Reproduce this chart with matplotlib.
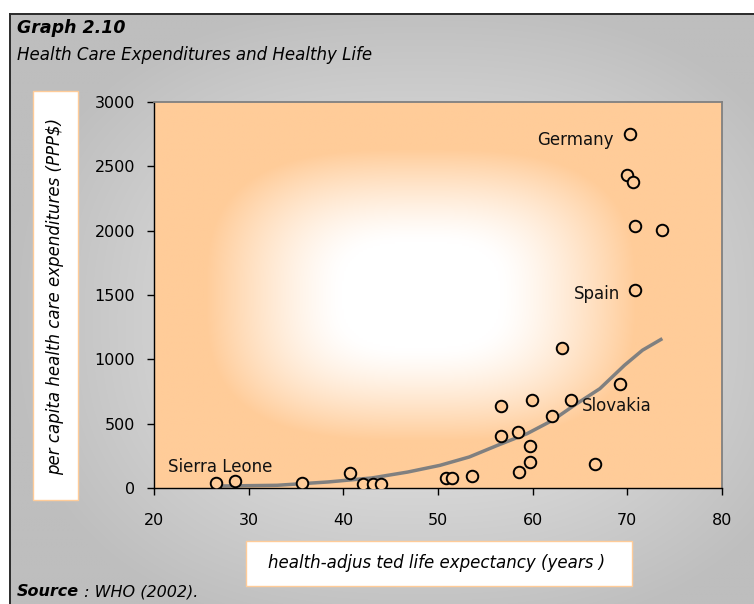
import numpy as np
import matplotlib.pyplot as plt
from matplotlib.patches import Rectangle

# ---------- Data ----------
life_exp = [26.5, 28.6, 35.6, 40.7, 42.1, 43.1, 44.0, 50.8, 51.5, 53.6,
            56.7, 56.7, 58.4, 59.9, 59.7, 59.7, 58.6, 62.0, 63.1, 64.1,
            66.6, 69.2, 70.85, 70.8, 73.65, 69.95, 70.65, 70.25]
health_exp = [35, 52, 38, 115, 30, 30, 30, 78, 78, 93,
              638, 407, 435, 687, 329, 200, 124, 562, 1091, 687,
              187, 809, 1542, 2037, 2006, 2431, 2379, 2750]

# trend line as drawn in the chart
trend_x = [26.5, 33.0, 38.4, 43.0, 46.8, 50.2, 53.3, 56.3, 59.4, 62.1,
           64.4, 67.1, 69.7, 71.6, 73.7]
trend_y = [15, 21, 47, 78, 124, 176, 241, 332, 422, 526,
           643, 772, 954, 1071, 1161]

# labelled countries -> index in the arrays above
countries = ['Germany', 'Spain', 'Slovakia', 'Sierra Leone']
country_idx = [27, 22, 19, 0]

x_ticks = [20, 30, 40, 50, 60, 70, 80]
y_ticks = [0, 500, 1000, 1500, 2000, 2500, 3000]

title = 'Graph 2.10'
subtitle = 'Health Care Expenditures and Healthy Life'
x_label = 'health-adjus ted life expectancy (years )'
y_label = 'per capita health care expenditures (PPP$)'

PEACH = '#FFCC99'
W, H = 754, 604

plt.rcParams['font.family'] = ['DejaVu Sans']

fig = plt.figure(figsize=(W / 100, H / 100), dpi=100)
fig.patch.set_facecolor('white')

# ---------- Grey frame with radial shading (pixel coordinates) ----------
bg = fig.add_axes([0, 0, 1, 1], zorder=-5)
bx, by = np.meshgrid(np.linspace(10, 760, 300), np.linspace(14, 610, 240))
rb = (np.abs((bx - 420) / 410) ** 2.5 + np.abs((by - 320) / 320) ** 2.5) ** 0.4
tb = np.clip((rb - 0.5) / 0.5, 0, 1)
grey = (215 - 25 * tb) / 255
bg.imshow(np.dstack([grey, grey, grey]), extent=(10, 760, 610, 14),
          aspect='auto', interpolation='bilinear')
bg.plot([10, 760], [14, 14], color='#2a2a2a', lw=1.4)
bg.plot([10, 10], [14, 610], color='#2a2a2a', lw=1.4)
bg.add_patch(Rectangle((33, 91), 45, 409, fc='white', ec=PEACH, lw=1))
bg.add_patch(Rectangle((246, 541), 386, 45, fc='white', ec=PEACH, lw=1))
bg.set_xlim(0, W)
bg.set_ylim(H, 0)
bg.axis('off')

# ---------- Plot area ----------
ax = fig.add_axes([154 / W, 1 - 488 / H, (722 - 154) / W, (488 - 102) / H])

gx, gy = np.meshgrid(np.linspace(-1, 1, 300), np.linspace(-1, 1, 200))
gx = gx + 0.06  # white spot sits a little left of centre
r = (np.abs(gx) ** 3 + np.abs(gy) ** 3) ** (1 / 3)
t = np.clip((r - 0.28) / (0.76 - 0.28), 0, 1) ** 1.3
peach = np.array([255, 204, 153]) / 255
img = 1 - t[..., None] * (1 - peach)
ax.imshow(img, extent=(20, 80, 0, 3000), aspect='auto', zorder=0,
          interpolation='bilinear')

ax.plot(trend_x, trend_y, color='#808080', lw=2.5, zorder=2,
        solid_capstyle='butt')
ax.plot(life_exp, health_exp, ls='none', marker='o', ms=8.3, mfc=PEACH,
        mec='black', mew=1.4, zorder=3)

offsets = {'Germany': (-11.3, -3.9, 'right'),
           'Spain': (-10.7, -3.1, 'right'),
           'Slovakia': (7.8, -4.3, 'left'),
           'Sierra Leone': (3.4, 12.0, 'center')}
for name, i in zip(countries, country_idx):
    dx, dy, ha = offsets[name]
    ax.annotate(name, (life_exp[i], health_exp[i]), xytext=(dx, dy),
                textcoords='offset points', ha=ha, va='center',
                fontsize=12, color='#111111', zorder=4)

ax.set_xlim(20, 80)
ax.set_ylim(0, 3000)
ax.set_xticks(x_ticks)
ax.set_yticks(y_ticks)
ax.tick_params(axis='both', direction='out', length=5, width=1,
               labelsize=11.5, colors='black')
ax.tick_params(axis='y', pad=8.5)
ax.tick_params(axis='x', pad=13)
for side in ['left', 'bottom']:
    ax.spines[side].set_color('black')
    ax.spines[side].set_linewidth(1)
for side in ['top', 'right']:
    ax.spines[side].set_color('#808080')
    ax.spines[side].set_linewidth(1.3)

# ---------- Texts ----------
fig.text(17 / W, 1 - 28 / H, title, fontsize=12.5, fontweight='bold',
         fontstyle='italic', va='center', ha='left')
fig.text(17 / W, 1 - 55 / H, subtitle, fontsize=12, fontstyle='italic',
         va='center', ha='left')
fig.text(55.5 / W, 1 - 296 / H, y_label, fontsize=12, fontstyle='italic',
         rotation=90, va='center', ha='center')
fig.text(437 / W, 1 - 563 / H, x_label, fontsize=12, fontstyle='italic',
         va='center', ha='center')
src = fig.text(17 / W, 1 - 592 / H, 'Source', fontsize=11.5,
               fontweight='bold', fontstyle='italic', va='center', ha='left')
ax.annotate(' : WHO (2002).', xy=(1, 0.5), xycoords=src, va='center',
            ha='left', fontsize=11.5, fontstyle='italic',
            annotation_clip=False)

fig.savefig('out.png', dpi=100)
